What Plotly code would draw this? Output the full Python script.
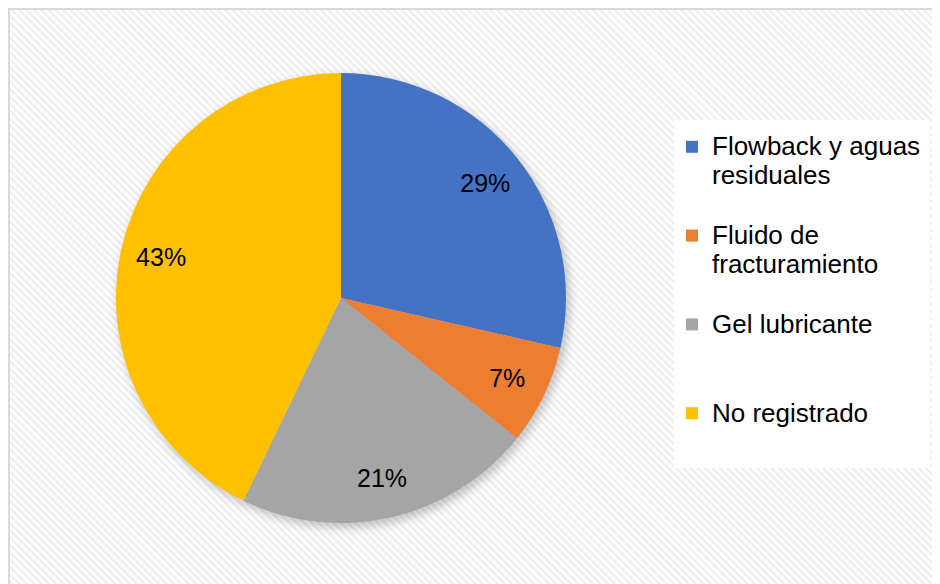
import base64
import plotly.graph_objects as go

# data
categories = ["Flowback y aguas", "Fluido de", "Gel lubricante", "No registrado"]
categories_2nd_line = ["residuales", "fracturamiento", "", ""]
counts = [4, 1, 3, 6]
colors = ["#4472C4", "#ED7D31", "#A5A5A5", "#FFC000"]

W, H = 940, 584
FONT = "Liberation Sans, Arial, sans-serif"
TXT = 26  # legend glyph size

# legend labels: two text lines plus a blank line so the entries sit ~87px apart
labels = []
for i, (a, b) in enumerate(zip(categories, categories_2nd_line)):
    lab = f'<span style="font-size:{TXT}px">{a}</span><br><span style="font-size:{TXT}px">{b or " "}</span>'
    if i < len(categories) - 1:
        lab += "<br> "
    labels.append(lab)

# pie placement (pixels, figure coords)
CX, CY, R = 333, 290, 225
pie_domain = dict(x=[(CX - R) / W, (CX + R) / W], y=[1 - (CY + R) / H, 1 - (CY - R) / H])

# striped background with light frame and a soft shadow behind the pie
bg_svg = f"""<svg xmlns="http://www.w3.org/2000/svg" width="{W}" height="{H}" viewBox="0 0 {W} {H}">
<defs>
<pattern id="p" width="5.2" height="5.2" patternUnits="userSpaceOnUse" patternTransform="rotate(-45)">
<rect width="5.2" height="5.2" fill="#ffffff"/><rect width="2.6" height="5.2" fill="#f0f0f0"/>
</pattern>
<filter id="b" x="-20%" y="-20%" width="140%" height="140%"><feGaussianBlur stdDeviation="5"/></filter>
</defs>
<rect x="1" y="1" width="{W + 20}" height="{H + 20}" fill="url(#p)" stroke="#d9d9d9" stroke-width="2"/>
<circle cx="{CX + 3}" cy="{CY + 4}" r="{R + 1}" fill="#000000" fill-opacity="0.22" filter="url(#b)"/>
<rect x="666" y="112" width="256" height="348" fill="#ffffff"/>
</svg>"""
bg_uri = "data:image/svg+xml;base64," + base64.b64encode(bg_svg.encode()).decode()

fig = go.Figure()

# coloured slices + legend
fig.add_trace(go.Pie(
    labels=labels,
    values=counts,
    sort=False,
    direction="clockwise",
    rotation=0,
    marker=dict(colors=colors, line=dict(width=0)),
    textinfo="none",
    domain=pie_domain,
    hoverinfo="value+percent",
))

# transparent ring carrying the percentage labels near the outer edge
fig.add_trace(go.Pie(
    labels=labels,
    values=counts,
    sort=False,
    direction="clockwise",
    rotation=0,
    hole=0.64,
    marker=dict(colors=["rgba(0,0,0,0)"] * len(counts), line=dict(width=0)),
    texttemplate="%{percent:.0%}",
    textposition="inside",
    insidetextorientation="horizontal",
    textfont=dict(family=FONT, size=25, color="#000000"),
    domain=pie_domain,
    showlegend=False,
    hoverinfo="skip",
))

fig.update_layout(
    width=W, height=H,
    margin=dict(l=0, r=0, t=0, b=0, autoexpand=False),
    paper_bgcolor="#ffffff",
    plot_bgcolor="rgba(0,0,0,0)",
    font=dict(family=FONT, color="#000000"),
    showlegend=True,
    legend=dict(
        x=664 / W, xanchor="left",
        y=1 - 118 / H, yanchor="top",
        valign="top",
        bgcolor="rgba(0,0,0,0)",
        font=dict(family=FONT, size=22, color="#000000"),
        traceorder="normal",
    ),
    images=[dict(source=bg_uri, xref="paper", yref="paper", x=0, y=1,
                 sizex=1, sizey=1, sizing="stretch", xanchor="left",
                 yanchor="top", layer="below")],
)

fig.write_html("out.html")
